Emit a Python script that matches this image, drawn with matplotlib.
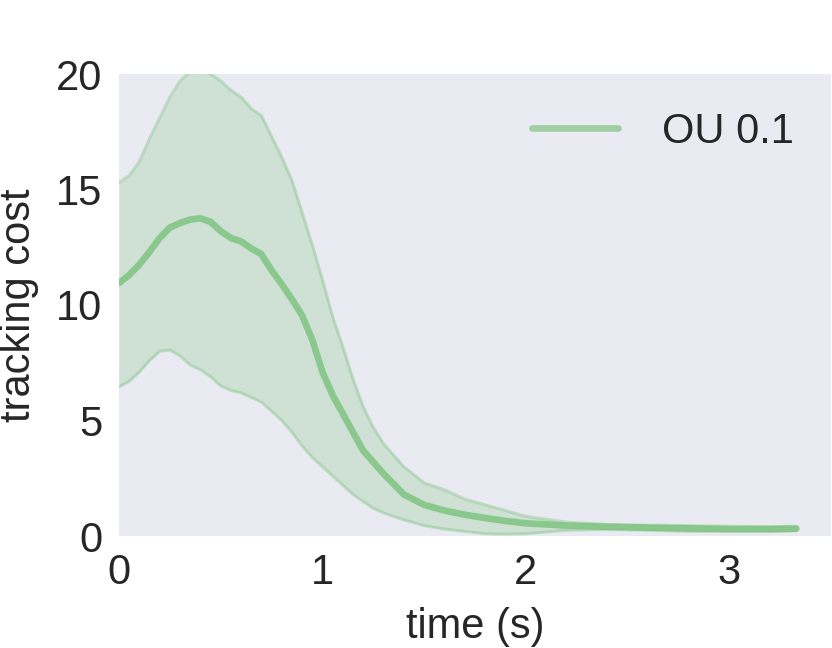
import matplotlib
matplotlib.use("Agg")
import matplotlib.pyplot as plt
import seaborn as sns

time_s = [0, 0.05, 0.1, 0.15, 0.2, 0.25, 0.3, 0.35, 0.4, 0.45, 0.5, 0.55, 0.6, 0.65,
          0.7, 0.75, 0.8, 0.85, 0.9, 0.95, 1.0, 1.05, 1.1, 1.15, 1.2, 1.25, 1.3, 1.4,
          1.5, 1.6, 1.7, 1.8, 1.9, 2.0, 2.2, 2.4, 2.6, 2.8, 3.0, 3.2, 3.33]
mean_cost = [10.95, 11.3, 11.75, 12.3, 12.9, 13.35, 13.55, 13.7, 13.75, 13.6, 13.2, 12.9,
             12.75, 12.45, 12.2, 11.5, 10.9, 10.25, 9.55, 8.5, 7.1, 6.1, 5.3, 4.5, 3.7,
             3.2, 2.7, 1.8, 1.35, 1.1, 0.92, 0.78, 0.65, 0.55, 0.45, 0.4, 0.36, 0.33,
             0.3, 0.3, 0.32]
upper_cost = [15.3, 15.6, 16.2, 17.2, 18.1, 19.0, 19.7, 20.1, 20.2, 20.0, 19.7, 19.3, 19.0,
              18.5, 18.2, 17.3, 16.4, 15.4, 14.0, 12.6, 11.1, 9.5, 8.2, 6.8, 5.6, 4.7,
              4.0, 3.0, 2.3, 2.0, 1.6, 1.35, 1.1, 0.85, 0.6, 0.5, 0.47, 0.45, 0.42, 0.4,
              0.42]
lower_cost = [6.45, 6.7, 7.1, 7.6, 8.0, 8.05, 7.8, 7.4, 7.2, 6.9, 6.5, 6.3, 6.2, 6.0, 5.8,
              5.4, 5.0, 4.5, 3.9, 3.4, 3.0, 2.6, 2.2, 1.8, 1.5, 1.2, 1.0, 0.7, 0.45, 0.3,
              0.2, 0.1, 0.08, 0.1, 0.25, 0.28, 0.25, 0.2, 0.2, 0.2, 0.22]
series_label = "OU 0.1"
x_ticks = [0, 1, 2, 3]
y_ticks = [0, 5, 10, 15, 20]

sns.set_style("dark")
plt.rcParams["font.family"] = ["Liberation Sans", "DejaVu Sans"]
plt.rcParams["text.color"] = "#262626"
plt.rcParams["axes.labelcolor"] = "#262626"
plt.rcParams["xtick.color"] = "#262626"
plt.rcParams["ytick.color"] = "#262626"

color = "#7fc481"
fig = plt.figure(figsize=(8.32, 6.48), dpi=100)
ax = fig.add_axes([119 / 832, 112 / 648, 712 / 832, 462 / 648])
ax.set_facecolor("#EAEAF2")
ax.fill_between(time_s, lower_cost, upper_cost, color=color, alpha=0.25, linewidth=0)
ax.plot(time_s, upper_cost, color=color, linewidth=2.2, alpha=0.4)
ax.plot(time_s, lower_cost, color=color, linewidth=2.2, alpha=0.4)
ax.plot(time_s, mean_cost, color=color, linewidth=4.8, alpha=0.85,
        solid_capstyle="round", label=series_label)
ax.set_xlim(0, 3.5)
ax.set_ylim(0, 20)
ax.set_xticks(x_ticks)
ax.set_yticks(y_ticks)
ax.tick_params(labelsize=30, pad=12, length=0)
ax.set_xlabel("time (s)", fontsize=30, labelpad=10)
ax.set_ylabel("tracking cost", fontsize=30, labelpad=12)
for s in ax.spines.values():
    s.set_visible(False)
leg = ax.legend(loc="upper right", fontsize=30, frameon=False, handlelength=2.05,
                handletextpad=1.05, borderaxespad=0.5)
for h in leg.get_lines():
    h.set_alpha(0.7)
fig.savefig("out.png", dpi=100)
